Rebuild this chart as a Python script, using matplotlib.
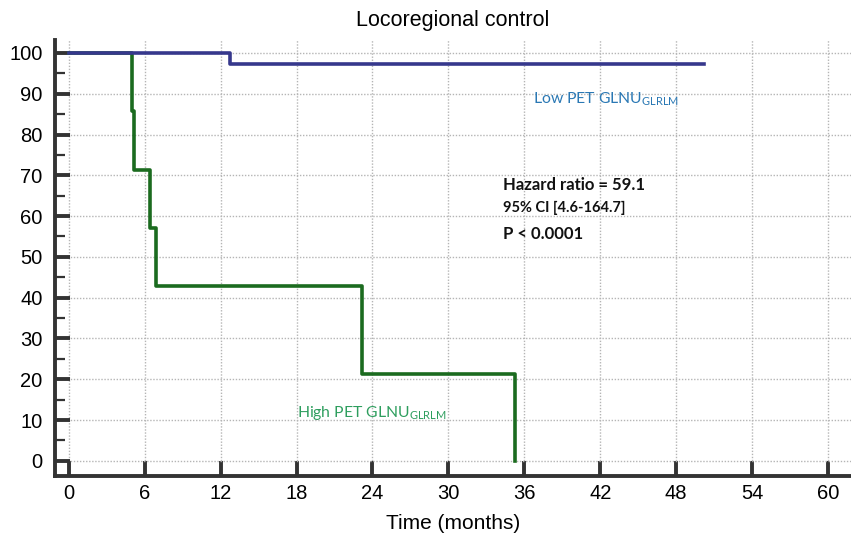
import matplotlib
matplotlib.use('Agg')
import matplotlib.pyplot as plt

# Kaplan-Meier step data (months, % free of locoregional failure)
high_time = [0, 5.0, 5.15, 6.4, 6.85, 23.2, 35.3]
high_surv = [100, 85.7, 71.4, 57.1, 42.9, 21.4, 0]
high_end = 35.3

low_time = [0, 12.7]
low_surv = [100, 97.4]
low_end = 50.2

x_ticks = [0, 6, 12, 18, 24, 30, 36, 42, 48, 54, 60]
y_ticks = [0, 10, 20, 30, 40, 50, 60, 70, 80, 90, 100]

plt.rcParams['font.family'] = ['Liberation Sans', 'DejaVu Sans']
plt.rcParams['mathtext.fontset'] = 'custom'
plt.rcParams['mathtext.rm'] = 'Lato'

fig = plt.figure(figsize=(8.51, 5.39), dpi=100)
ax = fig.add_axes([0.0646, 0.117, 0.935, 0.809])

ax.step(high_time + [high_end], high_surv + [high_surv[-1]], where='post',
        color='#1b6b1f', lw=2.6, zorder=3)
ax.step(low_time + [low_end], low_surv + [low_surv[-1]], where='post',
        color='#36388c', lw=2.6, zorder=3)

ax.set_xlim(-1.1, 61.8)
ax.set_ylim(-3.7, 103.2)
ax.set_xticks(x_ticks)
ax.set_yticks(y_ticks)
ax.set_yticks(range(5, 100, 10), minor=True)
ax.grid(True, which='major', color='#b5b5b5', linestyle=(0, (1, 1.2)), lw=1)

for s in ['top', 'right']:
    ax.spines[s].set_visible(False)
for s in ['left', 'bottom']:
    ax.spines[s].set_linewidth(2.8)
    ax.spines[s].set_color('#333333')

ax.tick_params(axis='both', which='major', direction='in', length=11, width=2.8,
               color='#333333', labelsize=14.5, pad=6)
ax.tick_params(axis='y', which='minor', direction='in', length=7, width=1.6,
               color='#333333')
ax.tick_params(axis='y', which='major', pad=9)

ax.set_title('Locoregional control', fontsize=15.5, pad=10)
ax.set_xlabel('Time (months)', fontsize=15, labelpad=8)

ax.text(36.7, 87.6, r'Low PET GLNU$_{\mathrm{GLRLM}}$', color='#2a78b4',
        fontsize=11.3, family='Lato')
ax.text(18.0, 10.8, r'High PET GLNU$_{\mathrm{GLRLM}}$', color='#2e9e5e',
        fontsize=11.3, family='Lato')

ax.text(34.3, 66.5, 'Hazard ratio = 59.1', fontsize=12, fontweight='bold',
        family='Lato', color='#111111')
ax.text(34.3, 61.0, '95% CI [4.6-164.7]', fontsize=10.5, fontweight='bold',
        family='Lato', color='#111111')
ax.text(34.3, 54.3, 'P < 0.0001', fontsize=12, fontweight='bold',
        family='Lato', color='#111111')

fig.savefig('out.png', dpi=100)
